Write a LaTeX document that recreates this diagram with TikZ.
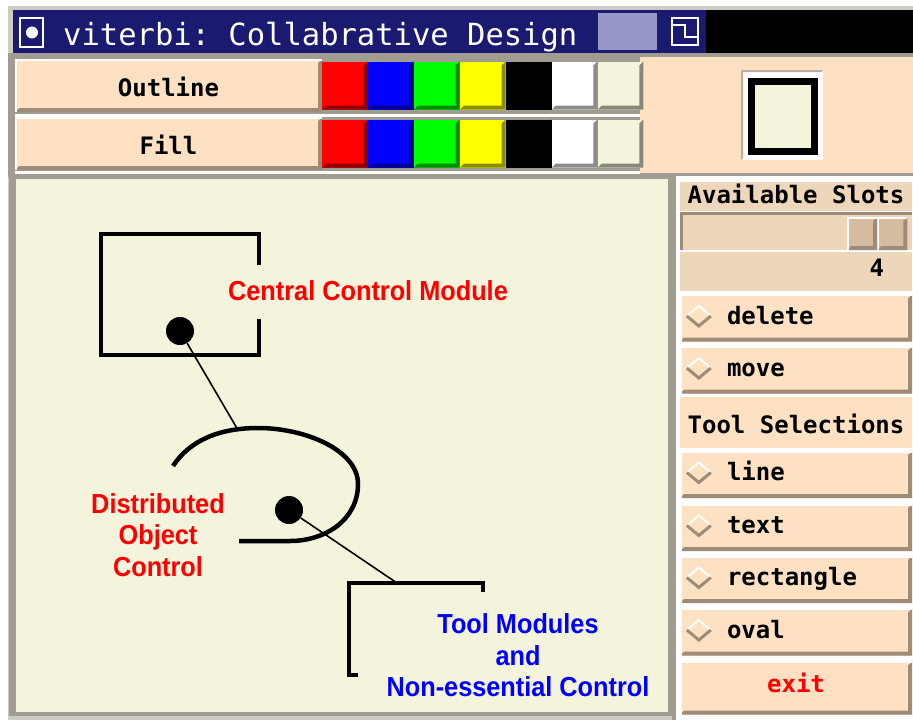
\documentclass[tikz,border=0pt]{standalone}
\usepackage{fontspec}
\setmainfont{Liberation Sans}
\setmonofont{DejaVu Sans Mono}
\newfontfamily\canvasfont[FakeStretch=0.92]{Liberation Sans}
\usepackage{tikz}
\usetikzlibrary{positioning}
\usepackage{xcolor}
\definecolor{wmnavy}{RGB}{26,26,112}
\definecolor{wmhatch}{RGB}{150,150,200}
\definecolor{wmframe}{RGB}{205,203,196}
\definecolor{wmgray}{RGB}{160,156,146}
\definecolor{wmpeach}{RGB}{253,225,194}
\definecolor{wmtan}{RGB}{238,214,186}
\definecolor{wmthumb}{RGB}{212,188,160}
\definecolor{wmshadow}{RGB}{158,140,120}
\definecolor{wmcream}{RGB}{244,243,220}
\definecolor{wmred}{RGB}{255,0,0}
\definecolor{wmblue}{RGB}{0,0,255}
\definecolor{wmgreen}{RGB}{0,255,0}
\definecolor{wmyellow}{RGB}{255,255,0}
\tikzstyle{bevel} = [path picture={
  \fill[wmshadow] (path picture bounding box.south west) -- (path picture bounding box.south east)
    -- (path picture bounding box.north east) -- ([shift={(-4pt,-4pt)}]path picture bounding box.north east)
    -- ([shift={(-4pt,4pt)}]path picture bounding box.south east) -- ([shift={(4pt,4pt)}]path picture bounding box.south west) -- cycle;
  \draw[white, line width=3pt] (path picture bounding box.south west) -- (path picture bounding box.north west) -- (path picture bounding box.north east);}]
\tikzset{swatch/.style={rectangle, fill=#1, inner sep=0pt, minimum width=45.5pt, minimum height=48pt,
  path picture={\fill[#1!55!black] (path picture bounding box.south west) -- (path picture bounding box.south east)
    -- (path picture bounding box.north east) -- ([shift={(-4pt,-4pt)}]path picture bounding box.north east)
    -- ([shift={(-4pt,4pt)}]path picture bounding box.south east) -- ([shift={(4pt,4pt)}]path picture bounding box.south west) -- cycle;}}}
\tikzstyle{hdr} = [rectangle, fill=wmpeach, bevel, inner sep=0pt, minimum width=307pt, minimum height=53pt, text height=21pt, text depth=0pt, font=\ttfamily\bfseries\fontsize{24}{28}\selectfont]
\tikzstyle{slotbox} = [rectangle, fill=wmtan, inner sep=0pt, minimum width=232pt, minimum height=29pt, font=\ttfamily\bfseries\fontsize{24}{28}\selectfont]
\tikzstyle{trough} = [rectangle, fill=wmtan, inner sep=0pt, minimum width=232pt, minimum height=40pt, path picture={
  \draw[wmshadow, line width=6pt] (path picture bounding box.south west) -- (path picture bounding box.north west) -- (path picture bounding box.north east);
  \draw[white, line width=4pt] (path picture bounding box.south west) -- (path picture bounding box.south east);}]
\tikzstyle{thumb} = [rectangle, fill=wmthumb, bevel, inner sep=0pt, minimum width=30pt, minimum height=33pt]
\tikzstyle{btn} = [rectangle, fill=wmpeach, bevel, inner sep=0pt, minimum width=232pt, minimum height=47pt, text height=17pt, text depth=4.4pt, font=\ttfamily\bfseries\fontsize{24}{28}\selectfont]
\tikzstyle{radiobtn} = [btn, text width=138pt, align=left]
\tikzstyle{dot} = [circle, fill=black, inner sep=0pt, minimum size=28pt]
\tikzstyle{pen} = [line width=4.5pt]
\tikzstyle{wire} = [line width=1.6pt]
\tikzstyle{ctext} = [inner sep=0pt, align=center, font=\canvasfont\bfseries\fontsize{27.5}{31.5}\selectfont]
\newcommand{\radiomark}[1]{%
  \draw[white, line width=2pt] ([shift={(7pt,2pt)}]#1.west) -- ++(12pt,10pt) -- ++(12pt,-10pt);
  \draw[wmshadow, line width=3pt] ([shift={(7pt,2pt)}]#1.west) -- ++(12pt,-10pt) -- ++(12pt,10pt);}

\begin{document}
\begin{tikzpicture}[x=1pt, y=-1pt]
\useasboundingbox (0,0) rectangle (913,720);
% Window frame
\fill[white] (0,0) rectangle (913,720);
\fill[wmframe] (8,6) rectangle (913,720);

% Title bar
\fill[wmnavy] (13,10) rectangle (706,53);
\fill[black] (706,10) rectangle (913,53);
\draw[white, line width=1.5pt] (20,18) rectangle (43,47);
\fill[white] (32,32.5) circle (6pt);
\node[anchor=base west, inner sep=0pt, text=white, font=\ttfamily\fontsize{30.5}{34}\selectfont] (title) at (63,45) {viterbi: Collabrative Design};
\fill[wmhatch] (598,13) rectangle (657,50);
\draw[white, line width=1.5pt] (672,18) rectangle (698,45);
\draw[white, line width=1.5pt] (672,25) -- (685,25) -- (685,37) -- (698,37);

% Outline / Fill rows
\fill[wmgray] (8,53) rectangle (913,177);
\fill[white] (15,113.5) rectangle (640,116.5);
\fill[white] (15,171) rectangle (640,173.5);
\fill[wmpeach] (640,57) rectangle (913,173);
\node[hdr] (outlineRow) at (168.5,85.5) {Outline};
\node[swatch=wmred, right=0pt of outlineRow] (oRed) {};
\node[swatch=wmblue, right=0pt of oRed] (oBlue) {};
\node[swatch=wmgreen, right=0pt of oBlue] (oGreen) {};
\node[swatch=wmyellow, right=0pt of oGreen] (oYellow) {};
\node[swatch=black, right=0pt of oYellow] (oBlack) {};
\node[swatch=white, right=0pt of oBlack] (oWhite) {};
\node[swatch=wmcream, right=0pt of oWhite] (oCream) {};
\node[hdr] (fillRow) at (168.5,143.5) {Fill};
\node[swatch=wmred, right=0pt of fillRow] (fRed) {};
\node[swatch=wmblue, right=0pt of fRed] (fBlue) {};
\node[swatch=wmgreen, right=0pt of fBlue] (fGreen) {};
\node[swatch=wmyellow, right=0pt of fGreen] (fYellow) {};
\node[swatch=black, right=0pt of fYellow] (fBlack) {};
\node[swatch=white, right=0pt of fBlack] (fWhite) {};
\node[swatch=wmcream, right=0pt of fWhite] (fCream) {};

% Preview
\fill[white] (741,70) rectangle (823,160);
\fill[wmshadow!70] (741,70) -- (823,70) -- (821,72) -- (743,72) -- (743,158) -- (741,160) -- cycle;
\node[draw=black, line width=7pt, fill=wmcream, inner sep=0pt, minimum width=63pt, minimum height=70pt] (preview) at (783,116.5) {};

% Drawing canvas
\fill[wmgray] (9,175) rectangle (672,716);
\fill[wmcream] (16,179) rectangle (668,712);
\draw[pen] (259,265) -- (259,234) -- (101,234) -- (101,355) -- (259,355) -- (259,319);
\node[dot] (c1) at (180,331) {};
\node[ctext, text=wmred] (ccm) at (368,291) {Central Control Module};
\draw[pen] (173,466) .. controls (190,440) and (220,428) .. (258,428)
  .. controls (305,428) and (358,450) .. (358,484)
  .. controls (358,520) and (325,541) .. (290,541) -- (239,541);
\coordinate (ovtop) at (238,430);
\node[dot] (c2) at (289,510) {};
\node[ctext, text=wmred] (doc) at (158,535) {Distributed\\Object\\Control};
\draw[pen] (483,592) -- (483,583) -- (349,583) -- (349,675) -- (358,675);
\coordinate (brtop) at (397,583);
\node[ctext, text=wmblue] (tmod) at (518,655.5) {Tool Modules\\and\\Non-essential Control};
\draw[wire] (c1) -- (ovtop);
\draw[wire] (c2) -- (brtop);

% Side panel
\fill[wmgray] (672,176) rectangle (676,720);
\fill[white] (676,176) rectangle (913,720);
\node[slotbox, text height=17pt, text depth=2.4pt] (slots) at (796,196) {Available Slots};
\node[trough] (slider) at (796,232) {};
\node[thumb] (thumbL) at (862,233.5) {};
\node[thumb, right=0pt of thumbL] (thumbR) {};
\node[slotbox, minimum height=39pt, text width=176pt, align=right, text height=17pt, text depth=8pt] (slotval) at (796,271.5) {4};
\node[radiobtn] (delete) at (796,318) {delete};
\radiomark{delete}
\node[radiobtn] (move) at (796,370) {move};
\radiomark{move}
\node[slotbox, fill=wmpeach, minimum height=51pt, text height=22.6pt, text depth=0pt] (tools) at (796,422) {Tool Selections};
\node[radiobtn] (line) at (796,474.5) {line};
\radiomark{line}
\node[radiobtn] (text) at (796,527.5) {text};
\radiomark{text}
\node[radiobtn] (rect) at (796,579.5) {rectangle};
\radiomark{rect}
\node[radiobtn] (oval) at (796,632) {oval};
\radiomark{oval}
\node[btn, minimum height=53pt, text=wmred, text height=17pt, text depth=9pt] (exit) at (796,688) {exit};
\end{tikzpicture}
\end{document}
